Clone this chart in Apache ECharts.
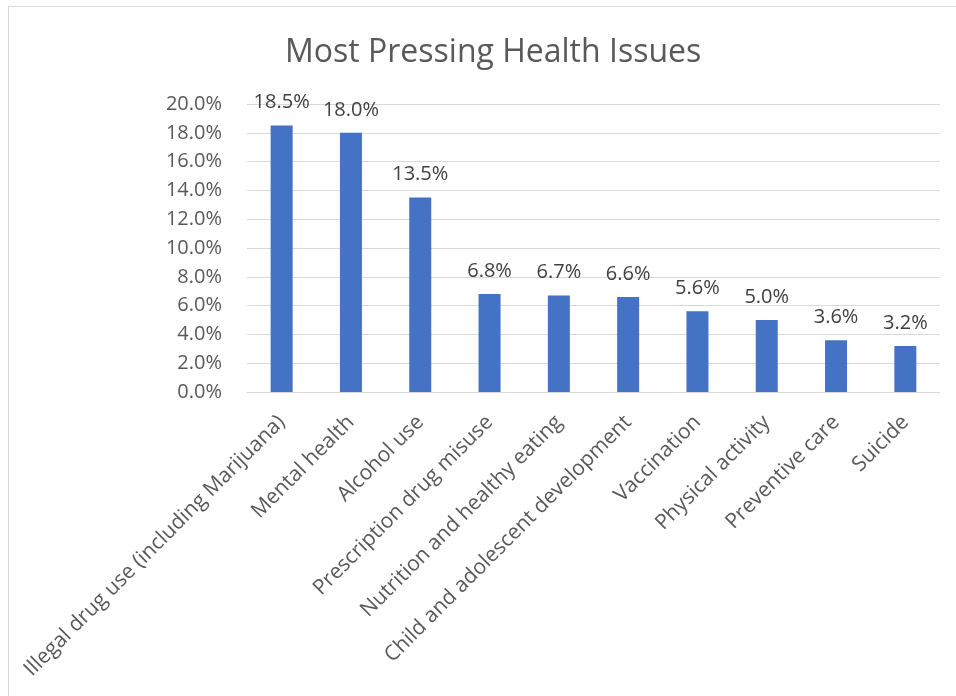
<!DOCTYPE html>
<html>
<head>
    <meta charset="utf-8"/>
    <title>Most Pressing Health Issues</title>
    <script src="https://cdn.jsdelivr.net/npm/echarts@6/dist/echarts.min.js"></script>
    <style>
        html, body { margin: 0; padding: 0; background: #fff; }
        #main { width: 956px; height: 696px; }
    </style>
</head>
<body>
<div id="main"></div>
<script>
    // 数据
    var categories = ['Illegal drug use (including Marijuana)', 'Mental health', 'Alcohol use',
        'Prescription drug misuse', 'Nutrition and healthy eating', 'Child and adolescent development',
        'Vaccination', 'Physical activity', 'Preventive care', 'Suicide'];
    var values = [18.5, 18.0, 13.5, 6.8, 6.7, 6.6, 5.6, 5.0, 3.6, 3.2];
    var yMin = 0, yMax = 20, yStep = 2;

    var font = '"Open Sans", "Liberation Sans", sans-serif';
    var chart = echarts.init(document.getElementById('main'));

    var option = {
        animation: false,
        title: {
            text: 'Most Pressing Health Issues',
            left: 280,
            top: 32,
            textStyle: { fontFamily: font, fontSize: 32, fontWeight: 'normal', color: '#595959' }
        },
        grid: { left: 247, right: 16, top: 104, bottom: 304, containLabel: false },
        xAxis: {
            type: 'category',
            data: categories,
            axisLine: { lineStyle: { color: '#d9d9d9', width: 1 } },
            axisTick: { show: false },
            axisLabel: {
                interval: 0,
                rotate: 45,
                margin: 27,
                fontFamily: font,
                fontSize: 21,
                color: '#595959'
            }
        },
        yAxis: {
            type: 'value',
            min: yMin,
            max: yMax,
            interval: yStep,
            axisLine: { show: false },
            axisTick: { show: false },
            splitLine: { lineStyle: { color: '#d9d9d9', width: 1 } },
            axisLabel: {
                margin: 25,
                fontFamily: font,
                fontSize: 20,
                color: '#595959',
                formatter: function (v) { return v.toFixed(1) + '%'; }
            }
        },
        series: [{
            type: 'bar',
            data: values,
            barWidth: 22,
            itemStyle: { color: '#4472c4' },
            label: {
                show: true,
                position: 'top',
                distance: 13,
                fontFamily: font,
                fontSize: 20,
                color: '#404040',
                formatter: function (p) { return p.value.toFixed(1) + '%'; }
            }
        }],
        graphic: [
            { type: 'line', shape: { x1: 8, y1: 6.5, x2: 956, y2: 6.5 }, style: { stroke: '#d9d9d9', lineWidth: 1 } },
            { type: 'line', shape: { x1: 8.5, y1: 6, x2: 8.5, y2: 696 }, style: { stroke: '#d9d9d9', lineWidth: 1 } }
        ]
    };
    chart.setOption(option);
</script>
</body>
</html>
